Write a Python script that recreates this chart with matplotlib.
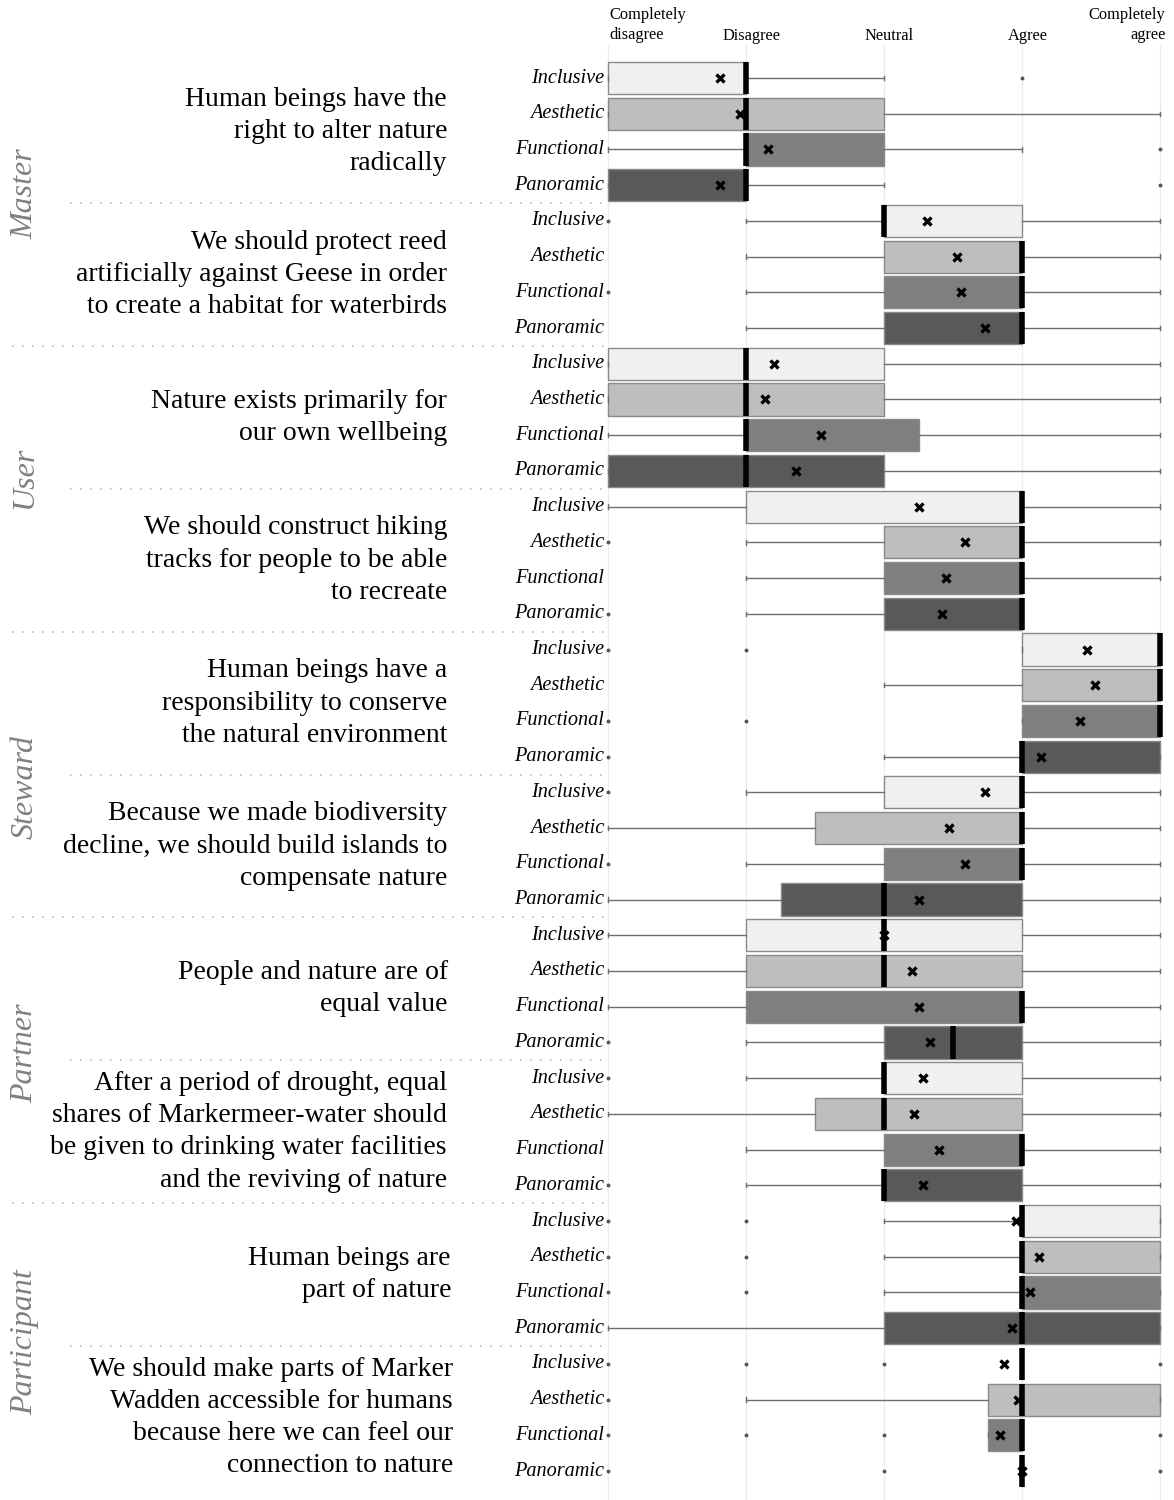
import matplotlib
matplotlib.use("Agg")
import matplotlib.pyplot as plt
import matplotlib.transforms as mtransforms

plt.rcParams['font.family'] = ['Liberation Serif', 'DejaVu Serif']

# ---------------- data ----------------
scale_labels = ["Completely\ndisagree", "Disagree", "Neutral", "Agree", "Completely\nagree"]
profiles = ["Inclusive", "Aesthetic", "Functional", "Panoramic"]
statements = [
    "Human beings have the\nright to alter nature\nradically",
    "We should protect reed\nartificially against Geese in order\nto create a habitat for waterbirds",
    "Nature exists primarily for\nour own wellbeing",
    "We should construct hiking\ntracks for people to be able\nto recreate",
    "Human beings have a\nresponsibility to conserve\nthe natural environment",
    "Because we made biodiversity\ndecline, we should build islands to\ncompensate nature",
    "People and nature are of\nequal value",
    "After a period of drought, equal\nshares of Markermeer-water should\nbe given to drinking water facilities\nand the reviving of nature",
    "Human beings are\npart of nature",
    "We should make parts of Marker\nWadden accessible for humans\nbecause here we can feel our\nconnection to nature",
]
categories = ["Master", "User", "Steward", "Partner", "Participant"]
category_statements = [2, 2, 2, 2, 2]

# one entry per row (statement x profile), in order
whislo = [1, 1, 1, 1,   2, 2, 2, 2,   1, 1, 1, 1,   1, 2, 2, 2,   4, 3, 4, 3,
          2, 1, 2, 1,   1, 1, 1, 2,   2, 1, 2, 2,   3, 3, 3, 1,   4, 2, 3.75, 4]
q1 =     [1, 1, 2, 1,   3, 3, 3, 3,   1, 1, 2, 1,   2, 3, 3, 3,   4, 4, 4, 4,
          3, 2.5, 3, 2.25, 2, 2, 2, 3, 3, 2.5, 3, 3,  4, 4, 4, 3,   4, 3.75, 3.75, 4]
med =    [2, 2, 2, 2,   3, 4, 4, 4,   2, 2, 2, 2,   4, 4, 4, 4,   5, 5, 5, 4,
          4, 4, 4, 3,   3, 3, 4, 3.5, 3, 3, 4, 3,   4, 4, 4, 4,   4, 4, 4, 4]
q3 =     [2, 3, 3, 2,   4, 4, 4, 4,   3, 3, 3.25, 3, 4, 4, 4, 4,  5, 5, 5, 5,
          4, 4, 4, 4,   4, 4, 4, 4,   4, 4, 4, 4,   5, 5, 5, 5,   4, 5, 4, 4]
whishi = [3, 5, 4, 3,   5, 5, 5, 5,   5, 5, 5, 5,   5, 5, 5, 4,   5, 5, 5, 5,
          5, 5, 5, 5,   5, 5, 5, 5,   5, 5, 5, 5,   5, 5, 5, 5,   4, 5, 4, 4]
means =  [1.81, 1.96, 2.16, 1.81,  3.31, 3.53, 3.56, 3.73,  2.20, 2.14, 2.54, 2.36,
          3.25, 3.59, 3.45, 3.42,  4.47, 4.53, 4.42, 4.14,  3.73, 3.47, 3.59, 3.25,
          3.00, 3.20, 3.25, 3.33,  3.28, 3.22, 3.40, 3.28,  3.96, 4.12, 4.06, 3.93,
          3.87, 3.97, 3.84, 4.00]
fliers = [[4], [], [5], [5],   [1], [], [1], [],   [], [], [], [],   [], [1], [], [1],
          [1, 2], [], [1, 2], [1],   [1], [], [1], [],   [], [], [], [1],   [1], [], [], [1],
          [1, 2], [1, 2], [1, 2], [],   [1, 2, 3, 5], [1], [1, 2, 3, 5], [1, 3, 5]]

box_colors = ["#f0f0f0", "#bebebe", "#7f7f7f", "#595959"]

# ---------------- figure ----------------
W, H = 1174, 1500
fig = plt.figure(figsize=(W / 100, H / 100), dpi=100)
ax = fig.add_axes([601.1 / W, 0.0, 565.8 / W, 1455 / H])
n_rows = len(med)

for xv in range(1, 6):
    ax.axvline(xv, color="#ececec", lw=0.9, zorder=0)

stats = []
for i in range(n_rows):
    stats.append(dict(med=med[i], q1=q1[i], q3=q3[i], whislo=whislo[i],
                      whishi=whishi[i], mean=means[i], fliers=fliers[i]))

kw = dict(positions=list(range(n_rows)), widths=0.9, capwidths=0.12,
          showmeans=True, meanline=False, patch_artist=True,
          boxprops=dict(edgecolor="#8a8a8a", linewidth=1.0),
          medianprops=dict(color="black", linewidth=4.0, solid_capstyle="butt"),
          meanprops=dict(marker="x", markeredgecolor="black", markerfacecolor="black",
                         markersize=5.5, markeredgewidth=2.4),
          whiskerprops=dict(color="#6e6e6e", linewidth=1.0),
          capprops=dict(color="#6e6e6e", linewidth=1.0),
          flierprops=dict(marker="o", markersize=1.8, markerfacecolor="#555555",
                          markeredgecolor="#555555", linestyle="none"))
try:
    res = ax.bxp(stats, orientation="horizontal", **kw)
except TypeError:
    res = ax.bxp(stats, vert=False, **kw)

for i, patch in enumerate(res["boxes"]):
    patch.set_facecolor(box_colors[i % 4])
    patch.set_zorder(2)
for m in res["medians"]:
    m.set_zorder(3)
for m in res["means"]:
    m.set_zorder(4)

ax.set_xlim(0.95, 5.05)
ax.set_ylim(39.81, -0.924)
for s in ax.spines.values():
    s.set_visible(False)
ax.set_xticks([])
ax.set_yticks([])
ax.tick_params(left=False, bottom=False, labelleft=False, labelbottom=False)

# header labels
hdr = mtransforms.blended_transform_factory(ax.transData, fig.transFigure)
fs_h = 11.8
ax.text(1.01, 1 - 25 / H, scale_labels[0], transform=hdr, ha="left", va="center",
        fontsize=fs_h, linespacing=1.3)
for k in (1, 2, 3):
    ax.text(k + 1 + 0.04, 1 - 36 / H, scale_labels[k], transform=hdr, ha="center",
            va="center", fontsize=fs_h)
ax.text(5.04, 1 - 25 / H, scale_labels[4], transform=hdr, ha="right", va="center",
        fontsize=fs_h, linespacing=1.3, multialignment="right")

# left-side labels
lt = mtransforms.blended_transform_factory(fig.transFigure, ax.transData)
for i in range(n_rows):
    ax.text(604 / W, i, profiles[i % 4], transform=lt, ha="right", va="center",
            fontsize=14.6, style="italic", clip_on=False)

stmt_x = [447, 447, 447, 447, 447, 447, 448, 447, 451, 453]
for j, s in enumerate(statements):
    yc = 4 * j + 1.5
    ax.text(stmt_x[j] / W, yc, s, transform=lt, ha="right", va="center",
            fontsize=20, linespacing=1.38, multialignment="right", clip_on=False)

# separators & categories
cat_shift = [-0.25, -0.3, 0.35, -0.2, -0.1]
stmt_idx = 0
for c, (cat, nst) in enumerate(zip(categories, category_statements)):
    first = stmt_idx
    last = stmt_idx + nst - 1
    yc = (4 * first + 4 * last + 3) / 2.0 + cat_shift[c]
    ax.text(25 / W, yc, cat, transform=lt, rotation=90, ha="center", va="center",
            fontsize=23, style="italic", color="#808080", clip_on=False)
    for k in range(first, last + 1):
        if k == len(statements) - 1:
            continue
        y = 4 * k + 3.5
        x0 = 70 if k < last else 12
        ax.plot([x0 / W, 606 / W], [y, y], transform=lt, color="#bdbdbd",
                lw=1.2, linestyle=(0, (1, 5)), clip_on=False, zorder=1)
    stmt_idx += nst

fig.savefig("out.png", dpi=100)
